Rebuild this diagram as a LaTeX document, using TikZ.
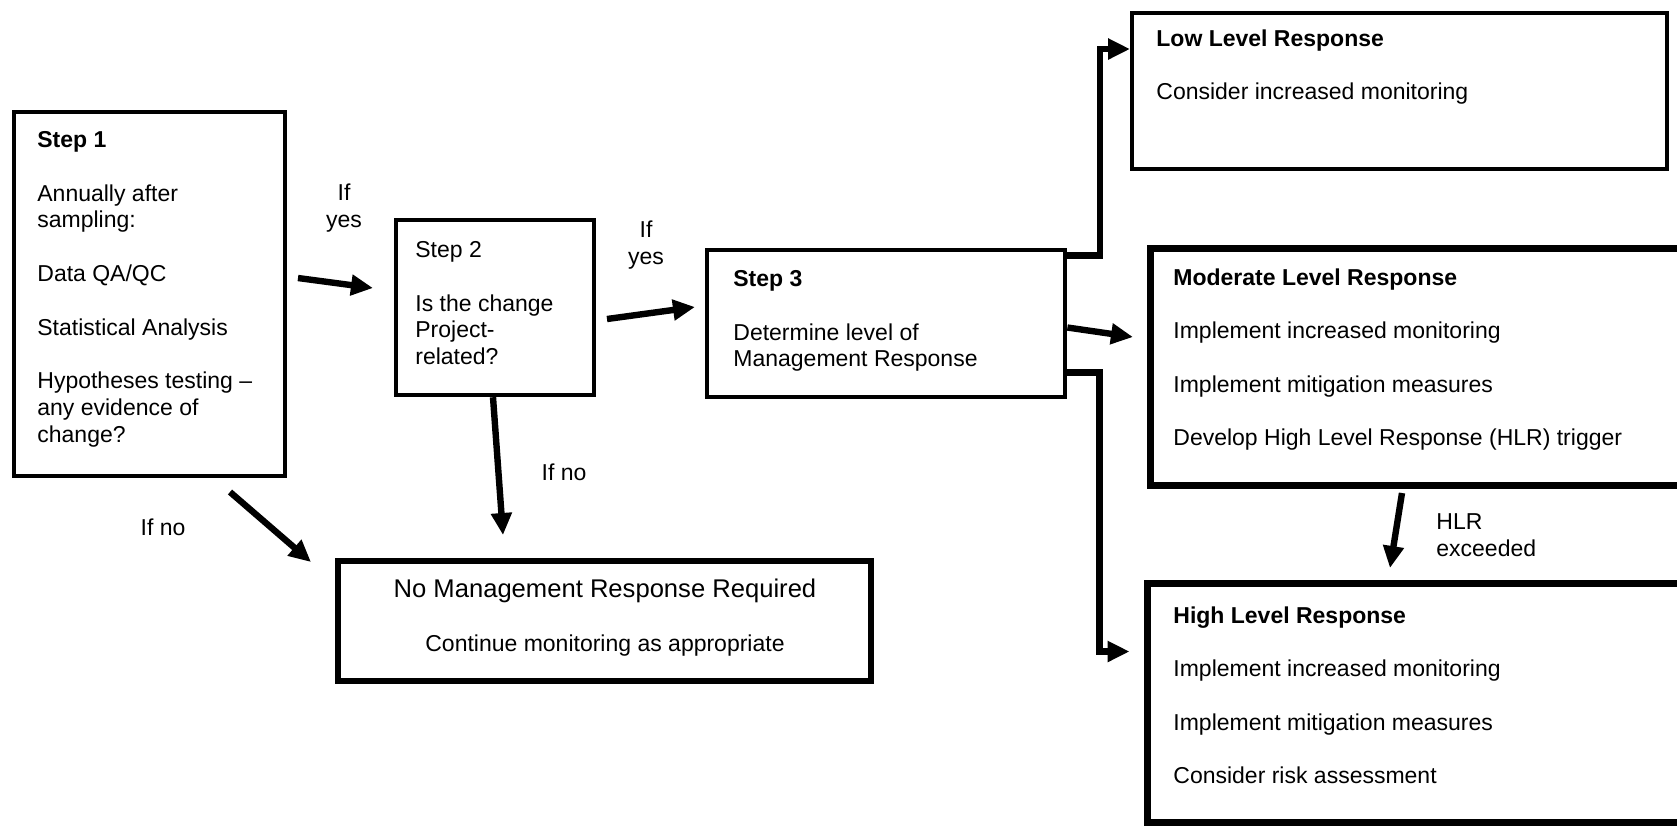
\documentclass[tikz,border=0pt]{standalone}
\usepackage{fontspec}
\setmainfont{Liberation Sans}
\usetikzlibrary{arrows.meta}
\begin{document}
\begin{tikzpicture}[x=0.5pt, y=-0.5pt, >={Triangle[length=11pt,width=10pt]},
	font=\fontsize{11.5pt}{13.4pt}\selectfont, line join=miter,
	box/.style={draw, rectangle, inner sep=0pt},
	txt/.style={anchor=north west, inner sep=0pt, align=left},
	lbl/.style={inner sep=0pt, align=center},
	arr/.style={->, line width=3.2pt}]
	\useasboundingbox (0,0) rectangle (1677,827);
	
	% boxes
	\node[box, line width=2.2pt, minimum width=135.5pt, minimum height=182pt] (s1) at (149.5,294) {};
	\node[box, line width=2.2pt, minimum width=99pt, minimum height=87.5pt] (s2) at (495,307.5) {};
	\node[box, line width=2.4pt, minimum width=179pt, minimum height=73.5pt] (s3) at (886,323.5) {};
	\node[box, line width=2pt, minimum width=267.5pt, minimum height=78pt] (low) at (1399.5,91) {};
	\node[box, line width=3.5pt, minimum width=265pt, minimum height=118.5pt] (mod) at (1415,366.5) {};
	\node[box, line width=3.5pt, minimum width=266.5pt, minimum height=119.5pt] (high) at (1413.5,702.5) {};
	\node[box, line width=3.2pt, minimum width=266.5pt, minimum height=60pt] (none) at (604.5,621) {};
	
	% texts
	\node[txt] (s1txt) at (37,131) {\textbf{Step 1}\\[13.4pt] Annually after\\ sampling:\\[13.4pt] Data QA/QC\\[13.4pt] Statistical Analysis\\[13.4pt] Hypotheses testing –\\ any evidence of\\ change?};
	\node[txt] (s2txt) at (415,241) {Step 2\\[13.4pt] Is the change\\ Project-\\ related?};
	\node[txt] (s3txt) at (733,270) {\textbf{Step 3}\\[13.4pt] Determine level of\\ Management Response};
	\node[txt] (lowtxt) at (1156,29) {\textbf{Low Level Response}\\[13.4pt] Consider increased monitoring};
	\node[txt] (modtxt) at (1173,268) {\textbf{Moderate Level Response}\\[13.4pt] Implement increased monitoring\\[13.4pt] Implement mitigation measures\\[13.4pt] Develop High Level Response (HLR) trigger};
	\node[txt] (hightxt) at (1173,606) {\textbf{High Level Response}\\[13.4pt] Implement increased monitoring\\[13.4pt] Implement mitigation measures\\[13.4pt] Consider risk assessment};
	\node[txt, anchor=north, align=center] (nonetxt) at (605,579) {{\fontsize{12.8pt}{13.4pt}\selectfont No Management Response Required}\\[13.4pt] Continue monitoring as appropriate};
	
	% labels
	\node[lbl] (yes1) at (344,208) {If\\ yes};
	\node[lbl] (yes2) at (646,245) {If\\ yes};
	\node[lbl] (no2) at (564,472) {If no};
	\node[lbl] (no1) at (163,527) {If no};
	\node[txt] (hlr) at (1436,513) {HLR\\ exceeded};
	
	% arrow ends
	\coordinate (a1) at (298,278);
	\coordinate (b1) at (373,288);
	\coordinate (a2) at (607,319);
	\coordinate (b2) at (695,307);
	\coordinate (b3) at (503,535);
	\coordinate (a4) at (230,492);
	\coordinate (b4) at (311,562);
	\coordinate (modin) at (1133,337);
	\coordinate (a5) at (1402,493);
	\coordinate (b5) at (1390,568);
	\coordinate (lowin) at ([yshift=-19pt]low.north west);
	\coordinate (highin) at ([shift={(-7pt,-36pt)}]high.north west);
	
	\draw[arr] (a1) -- (b1);
	\draw[arr] (a2) -- (b2);
	\draw[arr] ([xshift=-1pt]s2.south) -- (b3);
	\draw[arr] (a4) -- (b4);
	\draw[arr] ([yshift=-2pt]s3.east) -- (modin);
	\draw[arr] ([yshift=-4pt]s3.north east) -| ([xshift=-15pt]lowin) -- (lowin);
	\draw[arr] ([yshift=13.5pt]s3.south east) -| ([xshift=-15pt]highin) -- (highin);
	\draw[arr] (a5) -- (b5);
\end{tikzpicture}
\end{document}
